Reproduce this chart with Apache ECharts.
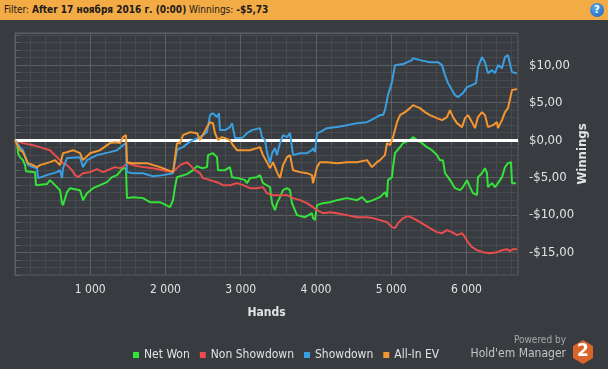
<!DOCTYPE html>
<html><head><meta charset="utf-8">
<script src="https://cdn.jsdelivr.net/npm/echarts@6/dist/echarts.min.js"></script>
<style>
html,body{margin:0;padding:0;background:#383b3f;width:608px;height:369px;overflow:hidden;}
#chart{position:absolute;left:0;top:0;width:608px;height:369px;}
#hdr{position:absolute;left:0;top:0;width:608px;height:20px;background:#f3ab45;font-family:"DejaVu Sans Condensed","Liberation Sans",sans-serif;font-size:10px;line-height:20px;color:#1a1a1a;white-space:nowrap;}
#hdr span.t{position:absolute;left:4px;top:0;}
#hdr b{font-weight:bold;}
#help{position:absolute;left:590px;top:3px;width:14px;height:14px;border-radius:7px;background:radial-gradient(circle at 40% 35%,#5aa8f0,#1b5fb0);color:#fff;font:bold 10px "DejaVu Sans",sans-serif;text-align:center;line-height:14px;}
</style></head>
<body>
<div id="chart"></div>
<div id="hdr"><span class="t">Filter: <b>After 17 ноября 2016 г. (0:00)</b> Winnings: <b>-$5,73</b></span><div id="help">?</div></div>
<script>
// ---- data: [hand, dollars] ----
const netWon = [[0,0],[27,-0.13],[40,-1.74],[66,-2.27],[106,-2.67],[133,-3.34],[146,-4.14],[266,-4.27],[279,-6.01],[425,-5.87],[465,-5.34],[505,-5.74],[558,-6.27],[598,-6.68],[625,-8.41],[638,-8.68],[691,-6.94],[731,-6.41],[864,-6.68],[904,-8.01],[957,-7.08],[1037,-6.41],[1130,-6.01],[1223,-5.61],[1289,-4.94],[1356,-4.67],[1435,-3.74],[1475,-3.74],[1488,-7.74],[1568,-7.61],[1701,-7.74],[1794,-8.28],[1927,-8.28],[2060,-8.94],[2100,-8.01],[2126,-6.27],[2153,-4.94],[2193,-4.81],[2286,-4.54],[2366,-4.01],[2419,-3.47],[2485,-3.74],[2552,-3.60],[2565,-2.00],[2631,-1.74],[2685,-2.27],[2698,-4.01],[2791,-4.01],[2857,-3.60],[2884,-4.94],[2964,-5.07],[3057,-5.34],[3083,-5.74],[3123,-5.07],[3216,-4.94],[3256,-4.67],[3296,-5.74],[3389,-6.27],[3416,-8.41],[3455,-9.35],[3482,-8.41],[3522,-7.61],[3562,-6.68],[3615,-6.41],[3655,-6.68],[3681,-8.41],[3748,-10.01],[3854,-10.28],[3947,-9.75],[3960,-10.41],[3987,-10.68],[4014,-8.68],[4093,-8.41],[4186,-8.28],[4279,-8.01],[4412,-7.74],[4545,-8.01],[4612,-7.61],[4678,-8.28],[4758,-8.01],[4851,-7.61],[4917,-6.94],[4944,-7.61],[4957,-5.34],[5010,-4.94],[5024,-3.60],[5050,-1.74],[5117,-0.93],[5157,-0.40],[5250,0],[5289,0.40],[5343,0],[5409,-0.40],[5475,-0.93],[5542,-1.34],[5608,-2.00],[5648,-2.67],[5688,-2.67],[5715,-4.41],[5755,-4.94],[5808,-5.74],[5848,-6.41],[5914,-6.68],[5954,-6.27],[6007,-5.34],[6047,-6.27],[6087,-7.08],[6140,-7.34],[6153,-4.94],[6206,-4.41],[6246,-3.74],[6273,-4.41],[6286,-6.27],[6339,-5.74],[6379,-6.27],[6419,-5.74],[6472,-4.94],[6512,-3.60],[6552,-3.07],[6592,-2.94],[6605,-5.74],[6658,-5.74]];
const nonShowdown = [[0,0],[13,-0.1],[106,-0.40],[239,-0.67],[372,-1.07],[465,-1.34],[505,-1.74],[571,-2.40],[638,-3.07],[691,-3.34],[758,-4.01],[797,-4.67],[837,-4.94],[904,-4.41],[997,-4.27],[1090,-3.87],[1170,-4.27],[1263,-3.87],[1329,-3.60],[1395,-3.74],[1435,-3.60],[1488,-3.07],[1568,-3.34],[1701,-3.60],[1834,-3.74],[1967,-4.01],[2100,-4.27],[2193,-3.34],[2286,-2.94],[2326,-3.34],[2392,-4.01],[2459,-4.41],[2499,-5.07],[2592,-5.34],[2685,-5.61],[2764,-6.01],[2857,-6.01],[2950,-5.74],[3030,-6.01],[3123,-6.41],[3216,-6.41],[3296,-6.27],[3349,-7.08],[3429,-7.34],[3615,-7.34],[3695,-7.74],[3788,-8.01],[3881,-8.41],[3960,-8.94],[4014,-9.35],[4093,-9.75],[4186,-9.61],[4279,-9.75],[4412,-10.01],[4545,-10.28],[4678,-10.28],[4758,-10.41],[4851,-10.68],[4944,-10.95],[5010,-11.61],[5050,-11.75],[5090,-11.08],[5157,-10.41],[5223,-10.15],[5289,-10.41],[5382,-10.95],[5449,-11.35],[5515,-11.75],[5608,-12.28],[5675,-12.42],[5741,-12.02],[5808,-12.28],[5874,-12.68],[5941,-12.42],[5981,-12.95],[6020,-13.62],[6074,-14.28],[6140,-14.69],[6220,-14.95],[6313,-15.09],[6406,-14.95],[6472,-14.69],[6539,-14.55],[6578,-14.82],[6618,-14.55],[6672,-14.55]];
const showdown = [[0,0],[13,-0.1],[66,-0.93],[106,-1.34],[173,-3.34],[239,-3.60],[292,-3.74],[306,-5.07],[332,-5.07],[425,-4.67],[558,-4.27],[598,-4.01],[625,-5.07],[638,-3.74],[691,-2.40],[864,-2.27],[904,-3.60],[957,-2.67],[1090,-2.00],[1263,-1.60],[1356,-1.34],[1435,-0.67],[1475,-0.40],[1488,-4.27],[1568,-4.41],[1701,-4.41],[1834,-4.81],[1967,-4.67],[2100,-4.41],[2153,-1.34],[2193,-1.07],[2233,-0.93],[2299,-0.40],[2366,0],[2459,0.40],[2552,1.07],[2592,3.34],[2631,3.60],[2685,3.07],[2711,3.60],[2724,1.34],[2791,1.34],[2857,1.74],[2884,2.27],[2924,0.27],[3017,0.27],[3083,0.93],[3150,1.34],[3256,1.60],[3283,0.40],[3323,0],[3349,-1.60],[3389,-3.07],[3416,-1.74],[3455,-1.07],[3482,-2.00],[3522,-0.40],[3562,0.67],[3615,0.40],[3655,0.93],[3695,-2.00],[3788,-1.74],[3881,-1.74],[3947,-1.34],[3960,-1.07],[3987,-1.60],[4014,0.93],[4053,1.07],[4146,1.60],[4279,1.74],[4412,2.00],[4545,2.27],[4678,2.40],[4758,2.80],[4851,3.34],[4891,3.34],[4917,4.01],[4957,6.01],[5010,7.74],[5050,10.01],[5157,10.15],[5276,10.68],[5289,10.95],[5382,10.68],[5515,10.41],[5622,10.41],[5675,10.01],[5715,8.68],[5755,7.61],[5808,6.68],[5848,6.01],[5887,5.74],[5954,6.28],[6007,7.08],[6074,7.34],[6127,7.61],[6153,9.75],[6206,11.08],[6246,10.41],[6286,8.94],[6339,9.35],[6379,8.94],[6419,10.01],[6472,9.61],[6512,11.08],[6552,11.35],[6578,11.61],[6605,9.08],[6672,8.94]];
const allInEV = [[0,0],[13,-0.1],[66,-1.34],[106,-1.60],[173,-3.07],[239,-3.34],[292,-3.60],[332,-3.34],[465,-2.94],[532,-2.67],[598,-3.34],[638,-1.74],[691,-1.60],[771,-1.34],[864,-1.74],[904,-2.67],[997,-1.74],[1130,-1.34],[1263,-0.40],[1329,-0.27],[1395,-0.40],[1435,0.40],[1475,0.67],[1488,-2.94],[1568,-3.07],[1754,-3.07],[1927,-3.60],[2100,-4.27],[2153,-0.40],[2193,-0.40],[2233,0.67],[2326,1.07],[2419,0.93],[2459,0],[2552,1.74],[2592,2.40],[2631,2.27],[2658,0.93],[2698,0],[2751,0.40],[2791,0.27],[2857,0],[2897,-0.67],[2950,-1.34],[3123,-1.34],[3216,-1.07],[3256,-0.93],[3296,-2.00],[3349,-2.94],[3389,-3.74],[3429,-2.94],[3482,-4.27],[3522,-5.07],[3562,-3.34],[3615,-2.27],[3655,-2.00],[3695,-4.01],[3788,-4.27],[3881,-4.41],[3947,-4.67],[3960,-5.74],[4014,-3.60],[4053,-2.94],[4146,-2.94],[4279,-3.07],[4412,-2.94],[4545,-2.94],[4678,-2.67],[4744,-3.60],[4811,-2.94],[4851,-2.67],[4917,-2.00],[4944,-0.40],[4984,-0.67],[5024,0.40],[5077,2.40],[5117,3.34],[5183,3.74],[5250,4.27],[5289,4.67],[5382,4.27],[5449,3.74],[5515,3.34],[5608,2.94],[5675,2.67],[5741,3.07],[5781,4.01],[5821,3.07],[5874,2.27],[5941,1.74],[5981,2.94],[6020,3.34],[6074,2.40],[6113,1.60],[6153,3.07],[6206,3.74],[6246,3.34],[6286,1.74],[6352,2.00],[6406,2.40],[6419,1.60],[6472,2.67],[6512,3.74],[6552,4.27],[6578,4.41],[6605,6.68],[6672,6.81]];
const seriesNames = ['Net Won','Non Showdown','Showdown','All-In EV'];
const seriesColors = ['#35e23a','#e84d4d','#3a9ee0','#f4962f'];
const seriesData = [netWon, nonShowdown, showdown, allInEV];
const handsMax = 6685, winMin = -18, winMax = 14.3;

const minorC = '#46494d', majorC = '#5c5f63', textC = '#e2e2e2';
function money(v){ const s = Math.abs(v).toFixed(2).replace('.', ','); return (v < 0 ? '-' : '') + '$' + s; }
function hands(v){ return String(v).replace(/\B(?=(\d{3})+$)/g, ' '); }

const chart = echarts.init(document.getElementById('chart'));
const series = seriesData.map((d, i) => ({
  name: seriesNames[i], type: 'line', data: d, symbol: 'none', z: 3 + i,
  lineStyle: { color: seriesColors[i], width: 2 }, itemStyle: { color: seriesColors[i] }, animation: false
}));
series.unshift({
  type: 'line', data: [], silent: true, z: 2, animation: false,
  markLine: { silent: true, symbol: 'none', label: { show: false }, animation: false,
    lineStyle: { color: '#ffffff', width: 3, type: 'solid' }, data: [{ yAxis: 0 }] }
});
chart.setOption({
  backgroundColor: '#383b3f',
  animation: false,
  grid: { left: 15, right: 90, top: 33, bottom: 94, show: true, borderColor: majorC, borderWidth: 1, backgroundColor: 'transparent', outerBoundsMode: 'none', containLabel: false },
  xAxis: {
    type: 'value', min: 0, max: handsMax, interval: 200,
    name: 'Hands', nameLocation: 'middle', nameGap: 32, nameMoveOverlap: false,
    nameTextStyle: { color: textC, fontWeight: 'bold', fontSize: 12, fontFamily: 'DejaVu Sans Condensed', verticalAlign: 'top' },
    axisLine: { show: true, lineStyle: { color: majorC } },
    axisTick: { show: true, length: 5, lineStyle: { color: majorC } },
    axisLabel: { color: textC, fontSize: 12, margin: 9, fontFamily: 'DejaVu Sans Condensed', formatter: v => (v > 0 && v % 1000 === 0) ? hands(v) : '' },
    splitLine: { show: true, lineStyle: { color: [majorC, minorC, minorC, minorC, minorC], width: 1 } }
  },
  yAxis: {
    type: 'value', position: 'right', min: winMin, max: winMax, interval: 1,
    name: 'Winnings', nameLocation: 'middle', nameGap: 58, nameRotate: 90, nameMoveOverlap: false,
    nameTextStyle: { color: textC, fontWeight: 'bold', fontSize: 13, fontFamily: 'DejaVu Sans Condensed' },
    axisLine: { show: true, lineStyle: { color: majorC } },
    axisTick: { show: true, length: 5, lineStyle: { color: majorC } },
    axisLabel: { color: textC, fontSize: 13, margin: 11, fontFamily: 'DejaVu Sans Condensed', formatter: v => (Math.abs(v % 5) < 1e-6) ? money(v) : '' },
    splitLine: { show: true, lineStyle: { color: [minorC, minorC, minorC, majorC, minorC], width: 1 } }
  },
  legend: {
    data: seriesNames, left: 128, top: 344, icon: 'rect', itemWidth: 6, itemHeight: 6, itemGap: 10,
    textStyle: { color: textC, fontSize: 12, fontFamily: 'DejaVu Sans Condensed' }
  },
  graphic: [
    { type: 'text', right: 42, top: 335, style: { text: 'Powered by', fill: '#a8a8a8', font: '10px "DejaVu Sans Condensed"' } },
    { type: 'text', right: 42, top: 348, style: { text: "Hold'em Manager", fill: '#c4c4c4', font: '12px "DejaVu Sans Condensed"' } },
    { type: 'polygon', shape: { points: [[583,340],[593,346],[593,358],[583,364],[573,358],[573,346]] }, style: { fill: '#d8652a' } },
    { type: 'text', x: 583, y: 352, style: { text: '2', fill: '#ffffff', font: 'bold 17px "DejaVu Sans"', align: 'center', verticalAlign: 'middle' } }
  ],
  series: series
});
</script>
</body></html>
